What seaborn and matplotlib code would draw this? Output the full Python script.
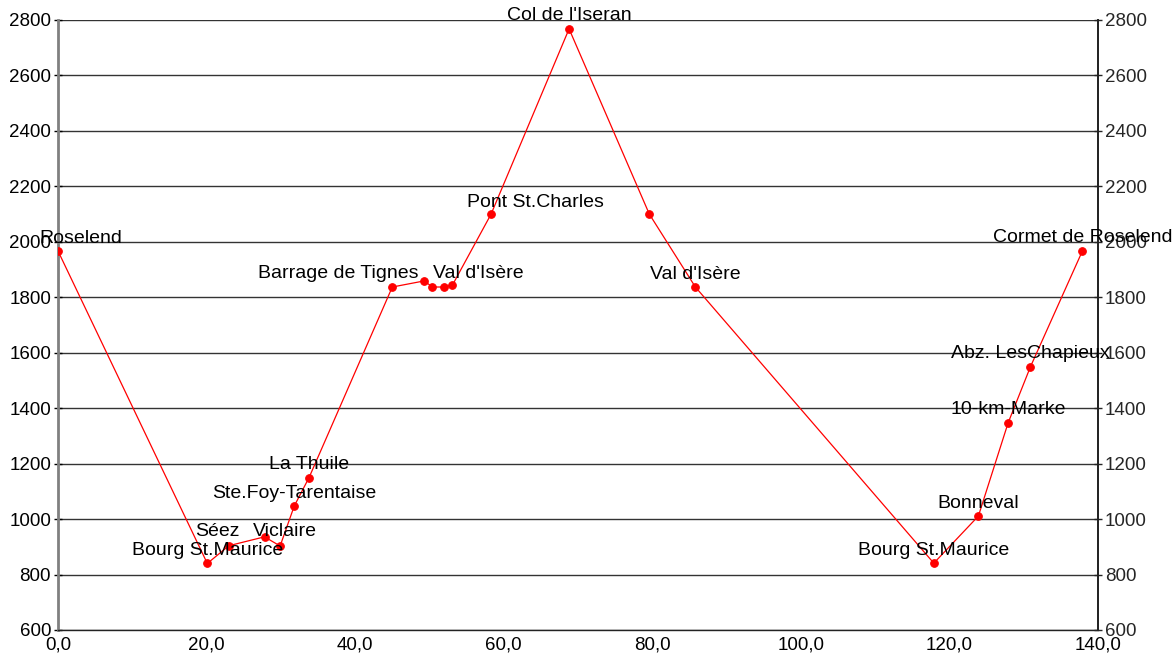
import matplotlib
matplotlib.use('Agg')
import matplotlib.pyplot as plt
import matplotlib.ticker as mticker
import seaborn as sns

# distance (km) and elevation (m) along the route
dist = [0.0, 20.1, 23.0, 27.8, 29.9, 31.8, 33.8, 45.0, 49.3, 50.4, 51.9,
        53.1, 58.3, 68.8, 79.6, 85.8, 117.9, 123.9, 127.9, 130.9, 137.9]
elev = [1967, 840, 904, 936, 903, 1047, 1150, 1837, 1859, 1837, 1837,
        1844, 2100, 2768, 2100, 1837, 841, 1011, 1347, 1549, 1967]
names = ['Roselend', 'Bourg St.Maurice', 'Séez', '', 'Viclaire',
         'Ste.Foy-Tarentaise', 'La Thuile', 'Barrage de Tignes', '', '', '',
         "Val d'Isère", 'Pont St.Charles', "Col de l'Iseran", '', "Val d'Isère",
         'Bourg St.Maurice', 'Bonneval', '10-km-Marke', 'Abz. LesChapieux',
         'Cormet de Roselend']

# label shifts in pixels (labels that were moved by hand in the original)
label_shift = {0: (23, 12), 2: (-11, 14), 4: (5, 14), 7: (-54, 14),
               11: (26, 12), 12: (44, 12)}

sns.set_theme(style='white')
plt.rcParams['font.family'] = ['Liberation Sans', 'DejaVu Sans']

fig = plt.figure(figsize=(11.72, 6.58), dpi=100)
ax = fig.add_axes([58 / 1172, 1 - 630 / 658, 1040 / 1172, 610 / 658])

sns.lineplot(x=dist, y=elev, ax=ax, sort=False, estimator=None,
             color='red', linewidth=0.9, marker='o', markersize=5.5,
             markeredgecolor='red', zorder=3)

ax.set_xlim(0, 140)
ax.set_ylim(600, 2800)
ax.xaxis.set_major_locator(mticker.MultipleLocator(20))
ax.xaxis.set_major_formatter(
    mticker.FuncFormatter(lambda v, p: f'{v:.1f}'.replace('.', ',')))
ax.yaxis.set_major_locator(mticker.MultipleLocator(200))
ax.yaxis.grid(True, color='#333333', linewidth=1)
ax.set_axisbelow(True)

ax.spines['top'].set_visible(False)
ax.spines['left'].set_color('#808080')
ax.spines['left'].set_linewidth(2)
ax.spines['bottom'].set_color('#222222')
ax.spines['right'].set_color('#222222')
ax.spines['bottom'].set_linewidth(1)

ax.tick_params(axis='both', which='major', labelsize=13.5, colors='black',
               direction='inout', length=6, width=1, pad=2)

ax2 = ax.twinx()
ax2.set_ylim(600, 2800)
ax2.yaxis.set_major_locator(mticker.MultipleLocator(200))
ax2.tick_params(axis='y', labelsize=13.5, direction='inout', length=6,
                width=1, pad=2)
for side in ['top', 'left', 'bottom']:
    ax2.spines[side].set_visible(False)
ax2.spines['right'].set_color('#222222')
ax2.grid(False)

for i, (x, y, n) in enumerate(zip(dist, elev, names)):
    if not n:
        continue
    dx, dy = label_shift.get(i, (0, 13))
    ax2.annotate(n, xy=(x, y), xycoords=ax.transData, xytext=(dx, dy),
                 textcoords='offset pixels', ha='center', va='center',
                 fontsize=14, color='black', annotation_clip=False,
                 zorder=5)

plt.savefig('out.png', dpi=100)
